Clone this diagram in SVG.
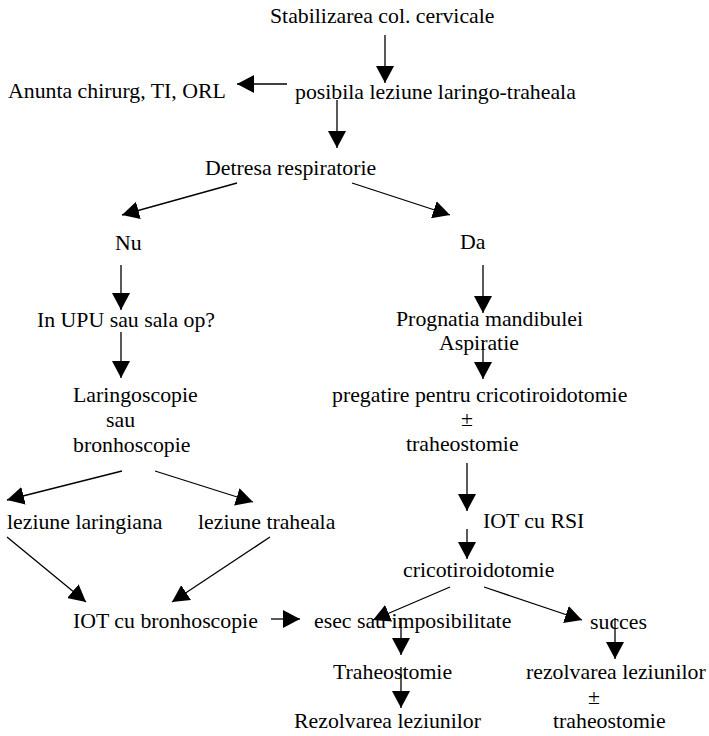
<svg xmlns="http://www.w3.org/2000/svg" width="709" height="736" viewBox="0 0 709 736">
<defs>
<marker id="ah" markerUnits="userSpaceOnUse" markerWidth="18" markerHeight="18" refX="17" refY="9" orient="auto" viewBox="0 0 18 18">
<path d="M0,0 L17,9 L0,18 Z" fill="#000"/>
</marker>
</defs>
<style>
.t text{font-family:'Liberation Serif','Times New Roman',Times,serif;font-size:21.8px;fill:#000}
.c{text-anchor:middle}
.e line{stroke:#000;stroke-width:1.3;marker-end:url(#ah)}
</style>
<rect width="709" height="736" fill="#fff"/>
<g id="connectors" class="e">
<line x1="385" y1="35" x2="385" y2="83"/>
<line x1="287" y1="84" x2="237" y2="84"/>
<line x1="337" y1="100" x2="337" y2="148"/>
<line x1="237" y1="183" x2="122" y2="215"/>
<line x1="352" y1="183" x2="450" y2="215"/>
<line x1="121" y1="265" x2="121" y2="310"/>
<line x1="483" y1="265" x2="483" y2="313"/>
<line x1="121" y1="332" x2="121" y2="378"/>
<line x1="483" y1="343" x2="483" y2="379"/>
<line x1="122" y1="471" x2="7" y2="500"/>
<line x1="155" y1="471" x2="253" y2="502"/>
<line x1="7" y1="537" x2="86" y2="602"/>
<line x1="270" y1="537" x2="172" y2="602"/>
<line x1="271" y1="619" x2="300" y2="619"/>
<line x1="450" y1="587" x2="373" y2="620"/>
<line x1="484" y1="587" x2="582" y2="620"/>
<line x1="401" y1="618" x2="401" y2="655"/>
<line x1="401" y1="667" x2="401" y2="708"/>
<line x1="615" y1="618" x2="615" y2="659"/>
<line x1="467" y1="463" x2="467" y2="511"/>
<line x1="467" y1="529" x2="467" y2="559"/>
</g>
<g class="t" font-family="Liberation Serif, serif">
<g id="n1"><text x="270" y="23">Stabilizarea col. cervicale</text></g>
<g id="n2"><text x="8" y="98">Anunta chirurg, TI, ORL</text></g>
<g id="n3"><text x="295" y="99">posibila leziune laringo-traheala</text></g>
<g id="n4"><text x="205" y="175">Detresa respiratorie</text></g>
<g id="n5"><text x="115" y="250">Nu</text></g>
<g id="n6"><text x="460" y="249">Da</text></g>
<g id="n7"><text x="37" y="327">In UPU sau sala op?</text></g>
<g id="n8"><text x="396" y="326">Prognatia mandibulei</text><text x="439" y="350">Aspiratie</text></g>
<g id="n9"><text x="332" y="402">pregatire pentru cricotiroidotomie</text><text class="c" x="467" y="426">±</text><text x="406" y="451">traheostomie</text></g>
<g id="n10"><text x="73" y="402">Laringoscopie</text><text x="106" y="427">sau</text><text x="73" y="452">bronhoscopie</text></g>
<g id="n11"><text x="7" y="529">leziune laringiana</text></g>
<g id="n12"><text x="198" y="529">leziune traheala</text></g>
<g id="n13"><text x="483" y="528">IOT cu RSI</text></g>
<g id="n14"><text x="403" y="577">cricotiroidotomie</text></g>
<g id="n15"><text x="73" y="628">IOT cu bronhoscopie</text></g>
<g id="n16"><text x="314" y="628">esec sau imposibilitate</text></g>
<g id="n17"><text x="590" y="629">succes</text></g>
<g id="n18"><text x="333" y="679">Traheostomie</text></g>
<g id="n19"><text x="294" y="728">Rezolvarea leziunilor</text></g>
<g id="n20"><text x="526" y="679">rezolvarea leziunilor</text><text class="c" x="594" y="704">±</text><text x="553" y="728">traheostomie</text></g>
</g>
</svg>
